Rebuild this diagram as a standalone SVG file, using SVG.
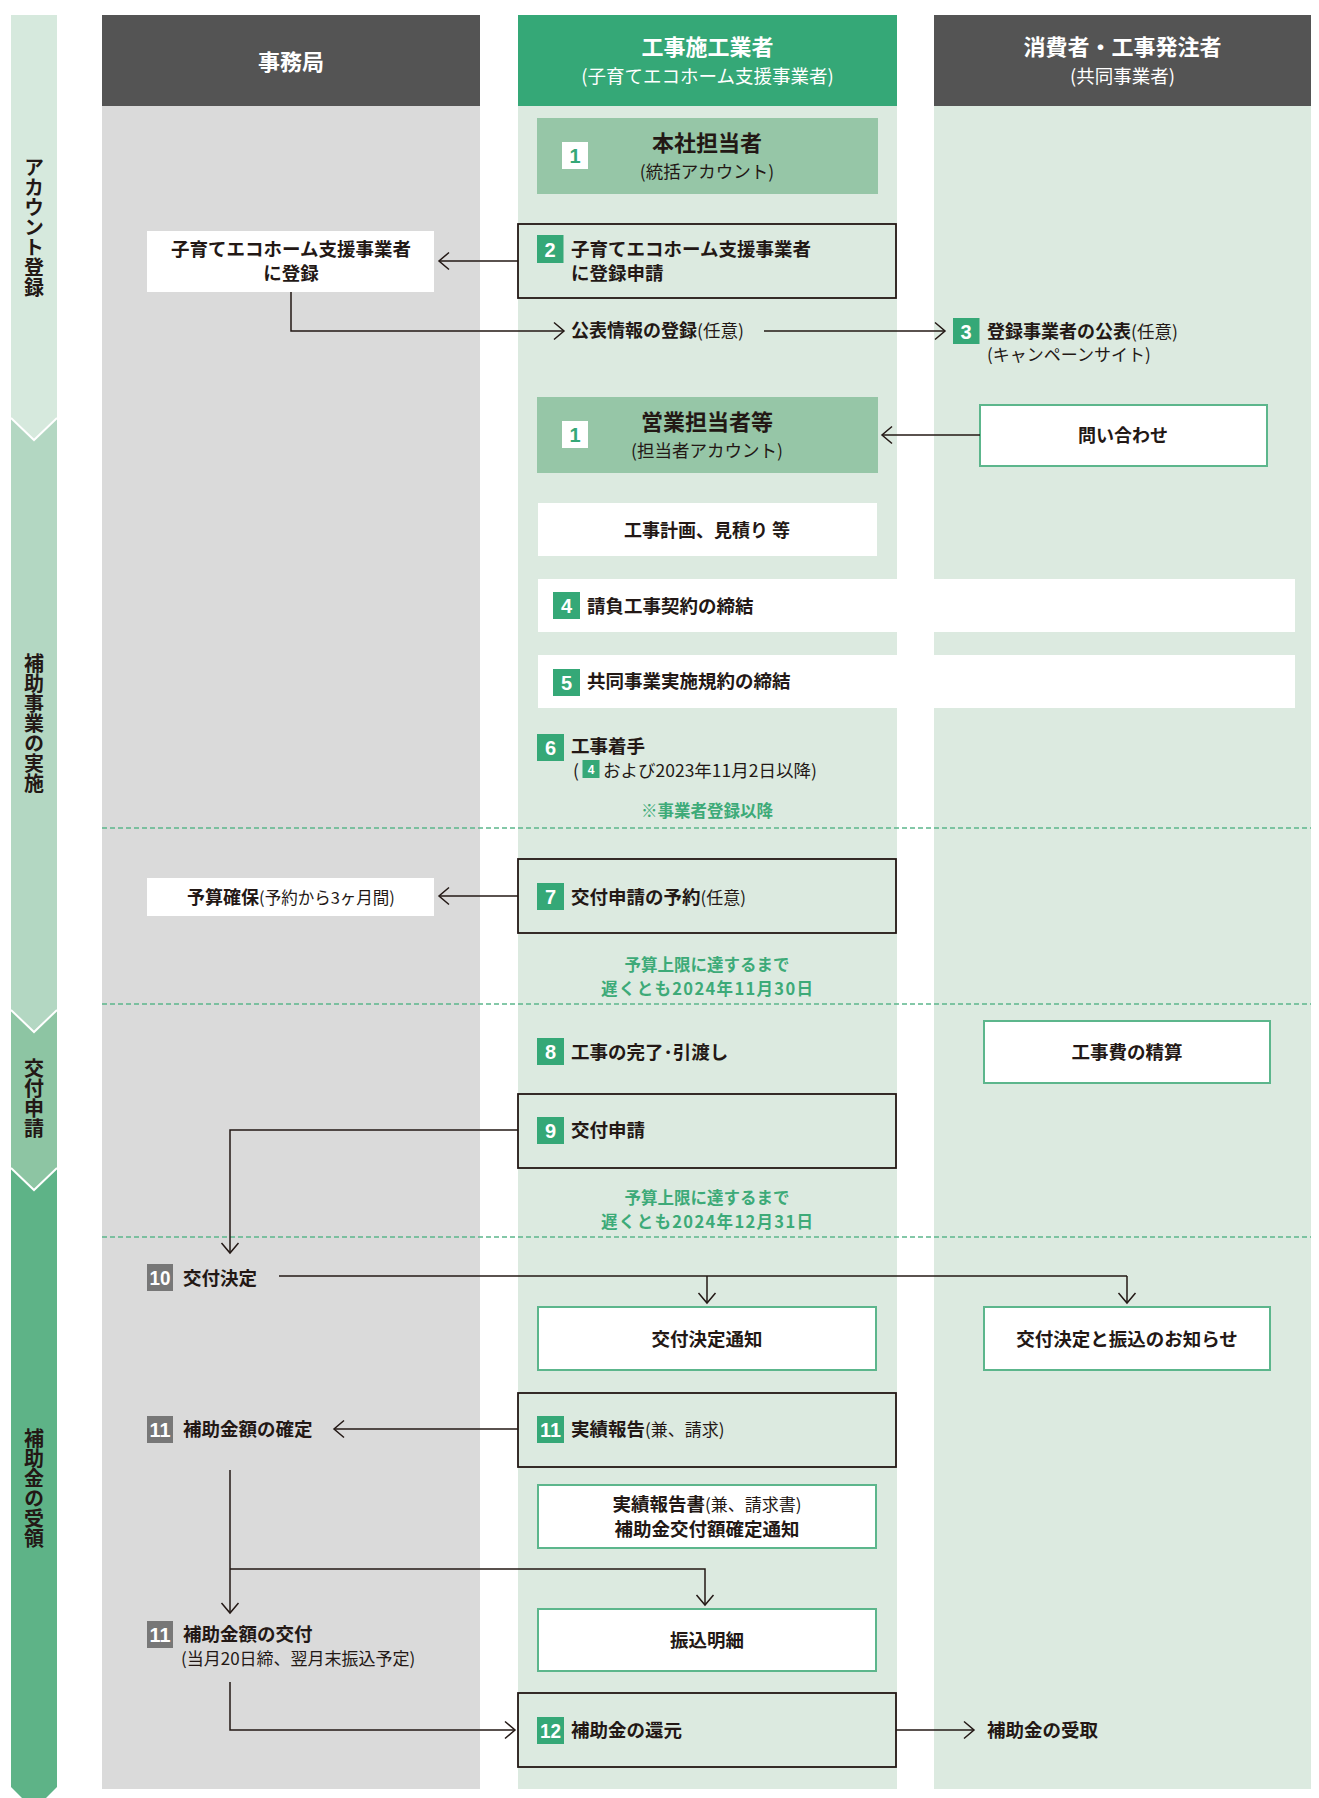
<svg xmlns="http://www.w3.org/2000/svg" width="1319" height="1798" viewBox="0 0 1319 1798">
<style>
.t{font-family:"Noto Sans CJK JP","Noto Sans",sans-serif;fill:#231815}
.b{font-weight:700}
.r{font-weight:400}
.w{fill:#ffffff}
.g{fill:#3daa78}
.m{text-anchor:middle}
.num{font-family:"Liberation Sans",Arial,sans-serif;font-weight:700;fill:#ffffff;text-anchor:middle;font-size:20px}
.bdg{fill:#35a877}
.gbdg{fill:#777777}
.dark{fill:none;stroke:#231815;stroke-width:1.8}
.gbox{fill:#ffffff;stroke:#5cb68c;stroke-width:2}
.wbox{fill:#ffffff}
.ln{fill:none;stroke:#231815;stroke-width:1.5}
.dash{fill:none;stroke:#5cb68c;stroke-width:1.4;stroke-dasharray:5 3}
.vt{font-family:"Noto Sans CJK JP",sans-serif;font-weight:700;font-size:20px;fill:#231815;writing-mode:vertical-rl}
</style>
<defs>
<marker id="arr" markerUnits="userSpaceOnUse" viewBox="-12 -10 14 20" refX="0" refY="0" markerWidth="14" markerHeight="20" orient="auto">
<path d="M-10,-8.5 L0,0 L-10,8.5" fill="none" stroke="#231815" stroke-width="1.5"/>
</marker>
</defs>
<rect width="1319" height="1798" fill="#ffffff"/>

<g id="phase-bar">
<polygon points="11,1168 57,1168 57,1787 34,1810 11,1787" fill="#5eb387"/>
<polygon points="11,1010 57,1010 57,1168 34,1190 11,1168" fill="#8dc5a3"/>
<polygon points="11,418 57,418 57,1010 34,1032 11,1010" fill="#b3d7c2"/>
<polygon points="11,15 57,15 57,418 34,440 11,418" fill="#d6e9dd"/>
<polyline points="11,418 34,440 57,418" fill="none" stroke="#ffffff" stroke-width="2"/>
<polyline points="11,1010 34,1032 57,1010" fill="none" stroke="#ffffff" stroke-width="2"/>
<polyline points="11,1168 34,1190 57,1168" fill="none" stroke="#ffffff" stroke-width="2"/>
<text class="vt" x="34" y="157">アカウント登録</text>
<text class="vt" x="34" y="653">補助事業の実施</text>
<text class="vt" x="34" y="1058">交付申請</text>
<text class="vt" x="34" y="1428">補助金の受領</text>
</g>

<g id="lanes">
<rect x="102" y="106" width="378" height="1683" fill="#dadada"/>
<rect x="518" y="106" width="379" height="1683" fill="#dceae0"/>
<rect x="934" y="106" width="377" height="1683" fill="#dceae0"/>
<rect x="102" y="15" width="378" height="91" fill="#545454"/>
<rect x="518" y="15" width="379" height="91" fill="#35a877"/>
<rect x="934" y="15" width="377" height="91" fill="#545454"/>
<text class="t b w m" x="291" y="70" font-size="22">事務局</text>
<text class="t b w m" x="707.5" y="55" font-size="22">工事施工業者</text>
<text class="t r w m" x="707.5" y="83" font-size="18.5">(子育てエコホーム支援事業者)</text>
<text class="t b w m" x="1122.5" y="55" font-size="22">消費者・工事発注者</text>
<text class="t r w m" x="1122.5" y="83" font-size="18.5">(共同事業者)</text>
</g>

<g id="separators">
<line class="dash" x1="102" y1="828" x2="1311" y2="828"/>
<line class="dash" x1="102" y1="1004" x2="1311" y2="1004"/>
<line class="dash" x1="102" y1="1237" x2="1311" y2="1237"/>
</g>

<g id="n1-honsha">
<rect x="537" y="118" width="341" height="76" fill="#96c6a7"/>
<rect x="562" y="142" width="26" height="27" fill="#ffffff"/>
<text class="num" x="575" y="163" style="fill:#35a877">1</text>
<text class="t b m" x="707" y="151" font-size="22">本社担当者</text>
<text class="t r m" x="707" y="178" font-size="17.5">(統括アカウント)</text>
</g>

<g id="n-register">
<rect class="wbox" x="147" y="231" width="287" height="61"/>
<text class="t b m" x="291" y="256" font-size="18.5">子育てエコホーム支援事業者</text>
<text class="t b m" x="291" y="280" font-size="18.5">に登録</text>
</g>

<g id="n2-apply">
<rect class="dark" x="518" y="224" width="378" height="74"/>
<rect class="bdg" x="537" y="235" width="26.5" height="28"/>
<text class="num" x="550" y="257">2</text>
<text class="t b" x="571" y="256" font-size="18.5">子育てエコホーム支援事業者</text>
<text class="t b" x="571" y="280" font-size="18.5">に登録申請</text>
</g>

<g id="n-public-info">
<text class="t" x="571" y="337" font-size="18"><tspan class="b">公表情報の登録</tspan><tspan class="r" font-size="17.5">(任意)</tspan></text>
</g>

<g id="n3-publish">
<rect class="bdg" x="953" y="318" width="26.5" height="26"/>
<text class="num" x="966" y="339">3</text>
<text class="t" x="987" y="338" font-size="18"><tspan class="b">登録事業者の公表</tspan><tspan class="r" font-size="17.5">(任意)</tspan></text>
<text class="t r" x="987" y="361" font-size="17">(キャンペーンサイト)</text>
</g>

<g id="n1-sales">
<rect x="537" y="397" width="341" height="76" fill="#96c6a7"/>
<rect x="562" y="421" width="26" height="27" fill="#ffffff"/>
<text class="num" x="575" y="442" style="fill:#35a877">1</text>
<text class="t b m" x="707" y="430" font-size="22">営業担当者等</text>
<text class="t r m" x="707" y="457" font-size="17.5">(担当者アカウント)</text>
</g>

<g id="n-inquiry">
<rect class="gbox" x="980" y="405" width="287" height="61"/>
<text class="t b m" x="1123" y="442" font-size="18">問い合わせ</text>
</g>

<g id="n-plan">
<rect class="wbox" x="538" y="503" width="339" height="53"/>
<text class="t b m" x="707" y="537" font-size="18">工事計画、見積り 等</text>
</g>

<g id="n4-contract">
<rect class="wbox" x="538" y="579" width="757" height="53"/>
<rect class="bdg" x="553" y="592" width="27" height="27"/>
<text class="num" x="566.5" y="613">4</text>
<text class="t b" x="587" y="613" font-size="18.5">請負工事契約の締結</text>
</g>

<g id="n5-joint">
<rect class="wbox" x="538" y="655" width="757" height="53"/>
<rect class="bdg" x="553" y="669" width="27" height="27"/>
<text class="num" x="566.5" y="690">5</text>
<text class="t b" x="587" y="688" font-size="18.5">共同事業実施規約の締結</text>
</g>

<g id="n6-start">
<rect class="bdg" x="537" y="734" width="27" height="27"/>
<text class="num" x="550.5" y="755">6</text>
<text class="t b" x="571" y="753" font-size="18.5">工事着手</text>
<text class="t r" x="573" y="777" font-size="17.5">(</text>
<rect class="bdg" x="582.5" y="760" width="17" height="18"/>
<text class="num" x="591" y="774" style="font-size:12px">4</text>
<text class="t r" x="603" y="777" font-size="17.5">および2023年11月2日以降)</text>
<text class="t b g m" x="707" y="817" font-size="16.5">※事業者登録以降</text>
</g>

<g id="n-budget">
<rect class="wbox" x="147" y="878" width="287" height="38"/>
<text class="t m" x="291" y="904" font-size="18"><tspan class="b">予算確保</tspan><tspan class="r" font-size="16.5">(予約から3ヶ月間)</tspan></text>
</g>

<g id="n7-reserve">
<rect class="dark" x="518" y="859" width="378" height="74"/>
<rect class="bdg" x="537" y="883" width="27" height="27"/>
<text class="num" x="550.5" y="904">7</text>
<text class="t" x="571" y="904" font-size="18.5"><tspan class="b">交付申請の予約</tspan><tspan class="r" font-size="17">(任意)</tspan></text>
<text class="t b g m" x="707" y="971" font-size="16.5">予算上限に達するまで</text>
<text class="t b g m" x="707" y="995" font-size="16.5" textLength="212" lengthAdjust="spacing">遅くとも2024年11月30日</text>
</g>

<g id="n8-complete">
<rect class="bdg" x="537" y="1038" width="27" height="27"/>
<text class="num" x="550.5" y="1059">8</text>
<text class="t b" x="571" y="1059" font-size="18.5">工事の完了･引渡し</text>
</g>

<g id="n-settle">
<rect class="gbox" x="984" y="1021" width="286" height="62"/>
<text class="t b m" x="1127" y="1059" font-size="18.5">工事費の精算</text>
</g>

<g id="n9-apply">
<rect class="dark" x="518" y="1094" width="378" height="74"/>
<rect class="bdg" x="537" y="1117" width="27" height="27"/>
<text class="num" x="550.5" y="1138">9</text>
<text class="t b" x="571" y="1137" font-size="18.5">交付申請</text>
<text class="t b g m" x="707" y="1204" font-size="16.5">予算上限に達するまで</text>
<text class="t b g m" x="707" y="1228" font-size="16.5" textLength="212" lengthAdjust="spacing">遅くとも2024年12月31日</text>
</g>

<g id="n10-decision">
<rect class="gbdg" x="147" y="1264" width="26" height="27"/>
<text class="num" x="160" y="1285" textLength="21" lengthAdjust="spacingAndGlyphs">10</text>
<text class="t b" x="183" y="1285" font-size="18.5">交付決定</text>
</g>

<g id="n-notice">
<rect class="gbox" x="538" y="1307" width="338" height="63"/>
<text class="t b m" x="707" y="1346" font-size="18.5">交付決定通知</text>
</g>

<g id="n-notice2">
<rect class="gbox" x="984" y="1307" width="286" height="63"/>
<text class="t b m" x="1127" y="1346" font-size="18.5">交付決定と振込のお知らせ</text>
</g>

<g id="n11-report">
<rect class="dark" x="518" y="1393" width="378" height="74"/>
<rect class="bdg" x="537" y="1416" width="27" height="27"/>
<text class="num" x="550.5" y="1437" textLength="21" lengthAdjust="spacingAndGlyphs">11</text>
<text class="t" x="571" y="1436" font-size="18.5"><tspan class="b">実績報告</tspan><tspan class="r" font-size="17">(兼、請求)</tspan></text>
</g>

<g id="n11-confirm">
<rect class="gbdg" x="147" y="1416" width="26" height="27"/>
<text class="num" x="160" y="1437" textLength="21" lengthAdjust="spacingAndGlyphs">11</text>
<text class="t b" x="183" y="1436" font-size="18.5">補助金額の確定</text>
</g>

<g id="n-report-doc">
<rect class="gbox" x="538" y="1485" width="338" height="63"/>
<text class="t m" x="707" y="1511" font-size="18.5"><tspan class="b">実績報告書</tspan><tspan class="r" font-size="17">(兼、請求書)</tspan></text>
<text class="t b m" x="707" y="1536" font-size="18.5">補助金交付額確定通知</text>
</g>

<g id="n-transfer">
<rect class="gbox" x="538" y="1609" width="338" height="62"/>
<text class="t b m" x="707" y="1647" font-size="18.5">振込明細</text>
</g>

<g id="n11-pay">
<rect class="gbdg" x="147" y="1621" width="26" height="27"/>
<text class="num" x="160" y="1642" textLength="21" lengthAdjust="spacingAndGlyphs">11</text>
<text class="t b" x="183" y="1641" font-size="18.5">補助金額の交付</text>
<text class="t r" x="181" y="1665" font-size="17">(当月20日締、翌月末振込予定)</text>
</g>

<g id="n12-return">
<rect class="dark" x="518" y="1693" width="378" height="74"/>
<rect class="bdg" x="537" y="1717" width="27" height="27"/>
<text class="num" x="550.5" y="1738" textLength="21" lengthAdjust="spacingAndGlyphs">12</text>
<text class="t b" x="571" y="1737" font-size="18.5">補助金の還元</text>
</g>

<g id="n-receive">
<text class="t b" x="987" y="1737" font-size="18.5">補助金の受取</text>
</g>

<g id="connectors">
<line class="ln" x1="518" y1="261" x2="439" y2="261" marker-end="url(#arr)"/>
<polyline class="ln" points="291,292 291,331 564,331" marker-end="url(#arr)"/>
<line class="ln" x1="764" y1="331" x2="945" y2="331" marker-end="url(#arr)"/>
<line class="ln" x1="980" y1="435" x2="882" y2="435" marker-end="url(#arr)"/>
<line class="ln" x1="518" y1="896" x2="439" y2="896" marker-end="url(#arr)"/>
<polyline class="ln" points="518,1130 230,1130 230,1253" marker-end="url(#arr)"/>
<line class="ln" x1="279" y1="1276" x2="1127" y2="1276"/>
<line class="ln" x1="707" y1="1276" x2="707" y2="1303" marker-end="url(#arr)"/>
<line class="ln" x1="1127" y1="1276" x2="1127" y2="1303" marker-end="url(#arr)"/>
<line class="ln" x1="518" y1="1429" x2="334" y2="1429" marker-end="url(#arr)"/>
<line class="ln" x1="230" y1="1470" x2="230" y2="1613" marker-end="url(#arr)"/>
<polyline class="ln" points="230,1569 705,1569 705,1605" marker-end="url(#arr)"/>
<polyline class="ln" points="230,1682 230,1730 515,1730" marker-end="url(#arr)"/>
<line class="ln" x1="896" y1="1730" x2="974" y2="1730" marker-end="url(#arr)"/>
</g>
</svg>
